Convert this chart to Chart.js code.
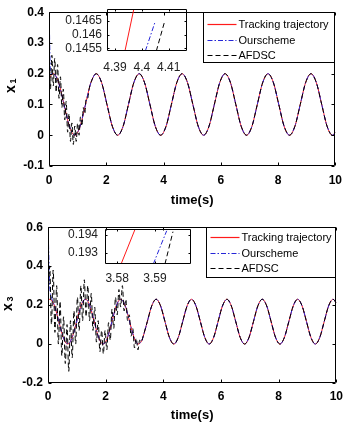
<!DOCTYPE html>
<html>
<head>
<meta charset="utf-8">
<script src="https://cdn.jsdelivr.net/npm/chart.js@4.4.1/dist/chart.umd.min.js"></script>
<style>
    html, body { margin: 0; padding: 0; background: #fff; }
    #wrap { position: relative; width: 349px; height: 431px; overflow: hidden; }
    #wrap canvas { position: absolute; }
</style>
</head>
<body>
<div id="wrap">
    <canvas id="main1" width="349" height="215" style="left:0;top:0"></canvas>
    <canvas id="inset1" width="130" height="82" style="left:60px;top:-3px"></canvas>
    <canvas id="main2" width="349" height="216" style="left:0;top:215px"></canvas>
    <canvas id="inset2" width="140" height="80" style="left:55px;top:215px"></canvas>
</div>
<script>
// ---- data ----

const seriesNames = ["Tracking trajectory", "Ourscheme", "AFDSC"];

// x1 panel, time axis in seconds
const time1 = [
    0, 0.05, 0.1, 0.15, 0.2, 0.25, 0.3, 0.35, 0.4, 0.45, 0.5, 0.55, 0.6, 0.65, 0.7,
    0.75, 0.8, 0.85, 0.9, 0.95, 1.0, 1.05, 1.1, 1.15, 1.2, 1.25, 1.3, 1.35, 1.4,
    1.4625, 1.65, 1.8375, 2.025, 2.2125, 2.4, 2.5875, 2.775, 2.9625, 3.15, 3.3375,
    3.525, 3.7125, 3.9, 4.0875, 4.275, 4.4625, 4.65, 4.8375, 5.025, 5.2125, 5.4,
    5.5875, 5.775, 5.9625, 6.15, 6.3375, 6.525, 6.7125, 6.9, 7.0875, 7.275, 7.4625,
    7.65, 7.8375, 8.025, 8.2125, 8.4, 8.5875, 8.775, 8.9625, 9.15, 9.3375, 9.525,
    9.7125, 9.9, 10
];
const trackX1 = [
    0.181, 0.191, 0.198, 0.2, 0.198, 0.191, 0.181, 0.167, 0.15, 0.131, 0.11, 0.09, 0.069, 0.05, 0.033,
    0.019, 0.009, 0.002, 0, 0.002, 0.009, 0.019, 0.033, 0.05, 0.069, 0.09, 0.11, 0.131, 0.15,
    0.171, 0.2, 0.171, 0.1, 0.029, 0, 0.029, 0.1, 0.171, 0.2, 0.171,
    0.1, 0.029, 0, 0.029, 0.1, 0.171, 0.2, 0.171, 0.1, 0.029, 0,
    0.029, 0.1, 0.171, 0.2, 0.171, 0.1, 0.029, 0, 0.029, 0.1, 0.171,
    0.2, 0.171, 0.1, 0.029, 0, 0.029, 0.1, 0.171, 0.2, 0.171, 0.1,
    0.029, 0, 0.009
];
const oursX1 = [
    0.43, 0.21, 0.2, 0.199, 0.197, 0.19, 0.18, 0.166, 0.149, 0.13, 0.109, 0.089, 0.069, 0.05, 0.034,
    0.02, 0.01, 0.003, 0.001, 0.003, 0.01, 0.02, 0.034, 0.051, 0.07, 0.09, 0.11, 0.131, 0.15,
    0.171, 0.2, 0.171, 0.1, 0.029, 0, 0.029, 0.1, 0.171, 0.2, 0.171,
    0.1, 0.029, 0, 0.029, 0.1, 0.171, 0.2, 0.171, 0.1, 0.029, 0,
    0.029, 0.1, 0.171, 0.2, 0.171, 0.1, 0.029, 0, 0.029, 0.1, 0.171,
    0.2, 0.171, 0.1, 0.029, 0, 0.029, 0.1, 0.171, 0.2, 0.171, 0.1,
    0.029, 0, 0.009
];
const afdscX1 = [
    0.28, 0.15, 0.26, 0.16, 0.25, 0.14, 0.23, 0.12, 0.19, 0.09, 0.15, 0.05, 0.11, 0.01, 0.07,
    -0.02, 0.04, -0.03, 0.03, -0.02, 0.04, 0, 0.06, 0.03, 0.09, 0.07, 0.12, 0.12, 0.15,
    0.171, 0.2, 0.171, 0.1, 0.029, 0, 0.029, 0.1, 0.171, 0.2, 0.171,
    0.1, 0.029, 0, 0.029, 0.1, 0.171, 0.2, 0.171, 0.1, 0.029, 0,
    0.029, 0.1, 0.171, 0.2, 0.171, 0.1, 0.029, 0, 0.029, 0.1, 0.171,
    0.2, 0.171, 0.1, 0.029, 0, 0.029, 0.1, 0.171, 0.2, 0.171, 0.1,
    0.029, 0, 0.009
];

// x3 panel
const time2 = [
    0, 0.06, 0.12, 0.18, 0.24, 0.3, 0.36, 0.42, 0.48, 0.54, 0.6, 0.66, 0.72, 0.78,
    0.84, 0.9, 0.96, 1.02, 1.08, 1.14, 1.2, 1.26, 1.32, 1.38, 1.44, 1.5, 1.56, 1.62,
    1.68, 1.74, 1.8, 1.86, 1.92, 1.98, 2.04, 2.1, 2.16, 2.22, 2.28, 2.34, 2.4, 2.46,
    2.52, 2.58, 2.64, 2.7, 2.76, 2.82, 2.88, 2.94, 3.0, 3.06, 3.12, 3.18, 3.24, 3.3,
    3.444, 3.598, 3.751, 3.904, 4.058, 4.211, 4.365, 4.518, 4.671, 4.825, 4.978,
    5.131, 5.285, 5.438, 5.592, 5.745, 5.898, 6.052, 6.205, 6.358, 6.512, 6.665,
    6.819, 6.972, 7.125, 7.279, 7.432, 7.585, 7.739, 7.892, 8.046, 8.199, 8.352,
    8.506, 8.659, 8.812, 8.966, 9.119, 9.273, 9.426, 9.579, 9.733, 9.886, 10
];
const trackX3 = [
    0.223, 0.23, 0.226, 0.212, 0.189, 0.159, 0.125, 0.09, 0.057, 0.03, 0.01, 0.001, 0.002, 0.014,
    0.035, 0.064, 0.097, 0.132, 0.166, 0.195, 0.216, 0.228, 0.229, 0.22, 0.201, 0.173, 0.141, 0.105,
    0.071, 0.041, 0.018, 0.004, 0, 0.007, 0.024, 0.05, 0.082, 0.117, 0.151, 0.183, 0.208, 0.224,
    0.23, 0.225, 0.21, 0.187, 0.156, 0.121, 0.086, 0.054, 0.027, 0.009, 0, 0.003, 0.015, 0.038,
    0.115, 0.196, 0.23, 0.196, 0.115, 0.034, 0, 0.034, 0.115, 0.196, 0.23,
    0.196, 0.115, 0.034, 0, 0.034, 0.115, 0.196, 0.23, 0.196, 0.115, 0.034,
    0, 0.034, 0.115, 0.196, 0.23, 0.196, 0.115, 0.034, 0, 0.034, 0.115,
    0.196, 0.23, 0.196, 0.115, 0.034, 0, 0.034, 0.115, 0.196, 0.23, 0.211
];
const oursX3 = [
    0.62, 0.3, 0.24, 0.215, 0.19, 0.16, 0.126, 0.091, 0.058, 0.031, 0.012, 0.003, 0.003, 0.014,
    0.034, 0.062, 0.095, 0.13, 0.164, 0.193, 0.215, 0.227, 0.229, 0.221, 0.202, 0.174, 0.142, 0.106,
    0.072, 0.042, 0.019, 0.005, 0.001, 0.007, 0.024, 0.05, 0.082, 0.117, 0.151, 0.183, 0.208, 0.224,
    0.23, 0.225, 0.21, 0.187, 0.156, 0.121, 0.086, 0.054, 0.027, 0.009, 0, 0.003, 0.015, 0.038,
    0.115, 0.196, 0.23, 0.196, 0.115, 0.034, 0, 0.034, 0.115, 0.196, 0.23,
    0.196, 0.115, 0.034, 0, 0.034, 0.115, 0.196, 0.23, 0.196, 0.115, 0.034,
    0, 0.034, 0.115, 0.196, 0.23, 0.196, 0.115, 0.034, 0, 0.034, 0.115,
    0.196, 0.23, 0.196, 0.115, 0.034, 0, 0.034, 0.115, 0.196, 0.23, 0.211
];
const afdscX3 = [
    0.22, 0.4, 0.1, 0.38, 0.06, 0.3, 0, 0.22, -0.06, 0.14, -0.1, 0.1, -0.14, 0.12,
    -0.07, 0.17, 0, 0.24, 0.07, 0.3, 0.12, 0.33, 0.14, 0.3, 0.12, 0.26, 0.07, 0.19,
    0.01, 0.12, -0.04, 0.07, -0.05, 0.07, -0.03, 0.11, 0.02, 0.18, 0.08, 0.24, 0.15, 0.28,
    0.19, 0.3, 0.17, 0.23, 0.12, 0.15, 0.04, 0.08, -0.02, 0.03, -0.03, 0.02, 0.01, 0.04,
    0.115, 0.196, 0.23, 0.196, 0.115, 0.034, 0, 0.034, 0.115, 0.196, 0.23,
    0.196, 0.115, 0.034, 0, 0.034, 0.115, 0.196, 0.23, 0.196, 0.115, 0.034,
    0, 0.034, 0.115, 0.196, 0.23, 0.196, 0.115, 0.034, 0, 0.034, 0.115,
    0.196, 0.23, 0.196, 0.115, 0.034, 0, 0.034, 0.115, 0.196, 0.23, 0.211
];

// zoomed insets: each curve is a short rising segment
const zoomTrackT1 = [4.3937, 4.3970];
const zoomTrackX1 = [0.14541, 0.14691];
const zoomOursT1  = [4.4013, 4.4050];
const zoomOursX1  = [0.14541, 0.14647];
const zoomAfdscT1 = [4.4054, 4.4085];
const zoomAfdscX1 = [0.14541, 0.14647];
const zoomTicksT1 = [4.39, 4.4, 4.41];
const zoomTicksX1 = [0.1455, 0.146, 0.1465];

const zoomTrackT3 = [3.58105, 3.58474];
const zoomTrackX3 = [0.19238, 0.19433];
const zoomOursT3  = [3.58955, 3.59308];
const zoomOursX3  = [0.19238, 0.19424];
const zoomAfdscT3 = [3.59263, 3.59474];
const zoomAfdscX3 = [0.19238, 0.19419];
const zoomTicksT3 = [3.58, 3.59];
const zoomTicksX3 = [0.193, 0.194];

// ---- styling ----

const FONT = "'Liberation Sans', Arial, sans-serif";

const lineStyles = [
    {borderColor: "#ff1a1a", borderWidth: 1, borderDash: [], order: 3},
    {borderColor: "#2626d8", borderWidth: 1, borderDash: [5, 2, 1.5, 2], order: 2},
    {borderColor: "#000000", borderWidth: 1, borderDash: [5, 3], order: 1},
];

function toPoints(times, values)
{
    return times.map((t, i) => ({x: t, y: values[i]}));
}

function makeDatasets(pairs)
{
    return pairs.map(([times, values], i) => Object.assign({
        label: seriesNames[i],
        data: toPoints(times, values),
        pointRadius: 0,
        fill: false,
        cubicInterpolationMode: "monotone",
    }, lineStyles[i]));
}

/**
 * Box, inward ticks, legend and the y label with a subscript.
 */
const axesFrame = {
    id: "axesFrame",
    afterDatasetsDraw(chart, args, opts)
    {
        const ctx  = chart.ctx;
        const area = chart.chartArea;
        const xs   = chart.scales.x;
        const ys   = chart.scales.y;
        const len  = opts.tickLength;

        const L = Math.round(area.left) + 0.5;
        const R = Math.round(area.right) - 0.5;
        const T = Math.round(area.top) + 0.5;
        const B = Math.round(area.bottom) - 0.5;

        ctx.save();
        ctx.strokeStyle = "#000";
        ctx.lineWidth   = 1;
        ctx.setLineDash([]);
        ctx.beginPath();
        ctx.rect(L, T, R - L, B - T);
        xs.ticks.forEach((t) => {
            const px = Math.round(xs.getPixelForValue(t.value)) + 0.5;
            ctx.moveTo(px, B);
            ctx.lineTo(px, B - len);
            ctx.moveTo(px, T);
            ctx.lineTo(px, T + len);
        });
        ys.ticks.forEach((t) => {
            const py = Math.round(ys.getPixelForValue(t.value)) + 0.5;
            ctx.moveTo(L, py);
            ctx.lineTo(L + len, py);
            ctx.moveTo(R, py);
            ctx.lineTo(R - len, py);
        });
        ctx.stroke();

        if (opts.legend) {
            const lg = opts.legend;
            const x0 = Math.round(area.right - lg.width) + 0.5;
            const y0 = T;

            ctx.fillStyle = "#fff";
            ctx.fillRect(x0, y0, R - x0, lg.height);
            ctx.strokeStyle = "#000";
            ctx.strokeRect(x0, y0, R - x0, lg.height);

            chart.data.datasets.forEach((ds, i) => {
                const y = Math.round(area.top + lg.firstRow + i * lg.rowGap) + 0.5;

                ctx.strokeStyle = ds.borderColor;
                ctx.lineWidth   = 1.2;
                ctx.setLineDash(ds.borderDash);
                ctx.beginPath();
                ctx.moveTo(x0 + 4, y);
                ctx.lineTo(x0 + 33, y);
                ctx.stroke();

                ctx.setLineDash([]);
                ctx.fillStyle    = "#000";
                ctx.font         = "11px " + FONT;
                ctx.textAlign    = "left";
                ctx.textBaseline = "middle";
                ctx.fillText(ds.label, x0 + 35, y);
            });
        }

        if (opts.yLabel) {
            const yl = opts.yLabel;

            ctx.translate(yl.x, yl.y);
            ctx.rotate(-Math.PI / 2);
            ctx.fillStyle    = "#000";
            ctx.textAlign    = "center";
            ctx.textBaseline = "middle";
            ctx.font = "bold 14px " + FONT;
            ctx.fillText(yl.text, 0, 0);
            ctx.font = "bold 9px " + FONT;
            ctx.fillText(yl.sub, 8, 3);
        }

        ctx.restore();
    }
};

function mainChart(id, datasets, cfg)
{
    const tickFont = {family: FONT, size: 12, weight: "bold"};

    return new Chart(document.getElementById(id), {
        type: "line",
        data: {datasets: datasets},
        plugins: [axesFrame],
        options: {
            responsive: false,
            animation: false,
            events: [],
            layout: {padding: cfg.padding},
            plugins: {
                legend: {display: false},
                tooltip: {enabled: false},
                axesFrame: {
                    tickLength: 3,
                    legend: cfg.legend,
                    yLabel: cfg.yLabel,
                },
            },
            scales: {
                x: {
                    type: "linear",
                    min: 0,
                    max: 10,
                    grid: {display: false, drawTicks: false},
                    border: {display: false},
                    ticks: {stepSize: 2, padding: cfg.xTickPad, color: "#000", font: tickFont, maxRotation: 0},
                    title: {
                        display: true,
                        text: "time(s)",
                        color: "#000",
                        font: {family: FONT, size: 13, weight: "bold"},
                        padding: {top: 0, bottom: cfg.xTitlePad},
                    },
                    afterFit: (s) => { s.height = cfg.xHeight; },
                },
                y: {
                    type: "linear",
                    min: cfg.yMin,
                    max: cfg.yMax,
                    grid: {display: false, drawTicks: false},
                    border: {display: false},
                    ticks: {stepSize: cfg.yStep, padding: 5, color: "#000", font: tickFont},
                    afterFit: (s) => { s.width = cfg.yWidth; },
                },
            },
        },
    });
}

function insetChart(id, datasets, cfg)
{
    const tickFont = {family: FONT, size: 12};

    return new Chart(document.getElementById(id), {
        type: "line",
        data: {datasets: datasets},
        plugins: [axesFrame],
        options: {
            responsive: false,
            animation: false,
            events: [],
            layout: {padding: cfg.padding},
            plugins: {
                legend: {display: false},
                tooltip: {enabled: false},
                axesFrame: {tickLength: 2},
            },
            scales: {
                x: {
                    type: "linear",
                    min: cfg.xMin,
                    max: cfg.xMax,
                    grid: {display: false, drawTicks: false},
                    border: {display: false},
                    afterBuildTicks: (s) => { s.ticks = cfg.xTicks.map((v) => ({value: v})); },
                    ticks: {padding: cfg.xTickPad, color: "#222", font: tickFont, maxRotation: 0, autoSkip: false,
                        callback: (v) => String(v)},
                    afterFit: (s) => { s.height = cfg.xHeight; },
                },
                y: {
                    type: "linear",
                    min: cfg.yMin,
                    max: cfg.yMax,
                    grid: {display: false, drawTicks: false},
                    border: {display: false},
                    afterBuildTicks: (s) => { s.ticks = cfg.yTicks.map((v) => ({value: v})); },
                    ticks: {padding: cfg.yTickPad, color: "#222", font: tickFont, autoSkip: false,
                        callback: (v) => String(v)},
                    afterFit: (s) => { s.width = cfg.yWidth; },
                },
            },
        },
    });
}

mainChart("main1", makeDatasets([[time1, trackX1], [time1, oursX1], [time1, afdscX1]]), {
    padding: {left: 0, top: 5, right: 7, bottom: 0},
    yWidth: 49, xHeight: 49, xTickPad: 7, xTitlePad: 7,
    yMin: -0.1, yMax: 0.4, yStep: 0.1,
    legend: {width: 132, height: 50, firstRow: 12, rowGap: 15.5},
    yLabel: {text: "x", sub: "1", x: 11, y: 89},
});

mainChart("main2", makeDatasets([[time2, trackX3], [time2, oursX3], [time2, afdscX3]]), {
    padding: {left: 0, top: 9, right: 11, bottom: 0},
    yWidth: 48, xHeight: 48, xTickPad: 6, xTitlePad: 8,
    yMin: -0.2, yMax: 0.6, yStep: 0.2,
    legend: {width: 130, height: 50, firstRow: 10, rowGap: 15.5},
    yLabel: {text: "x", sub: "3", x: 8, y: 92},
});

insetChart("inset1", makeDatasets([[zoomTrackT1, zoomTrackX1], [zoomOursT1, zoomOursX1], [zoomAfdscT1, zoomAfdscX1]]), {
    padding: {left: 0, top: 2, right: 3, bottom: 0},
    yWidth: 47, xHeight: 28, xTickPad: 9, yTickPad: 5,
    xMin: 4.387, xMax: 4.4167, yMin: 0.14541, yMax: 0.14691,
    xTicks: zoomTicksT1, yTicks: zoomTicksX1,
});

insetChart("inset2", makeDatasets([[zoomTrackT3, zoomTrackX3], [zoomOursT3, zoomOursX3], [zoomAfdscT3, zoomAfdscX3]]), {
    padding: {left: 0, top: 9, right: 4, bottom: 0},
    yWidth: 50, xHeight: 31, xTickPad: 7, yTickPad: 7,
    xMin: 3.5768, xMax: 3.5995, yMin: 0.19238, yMax: 0.19433,
    xTicks: zoomTicksT3, yTicks: zoomTicksX3,
});
</script>
</body>
</html>
